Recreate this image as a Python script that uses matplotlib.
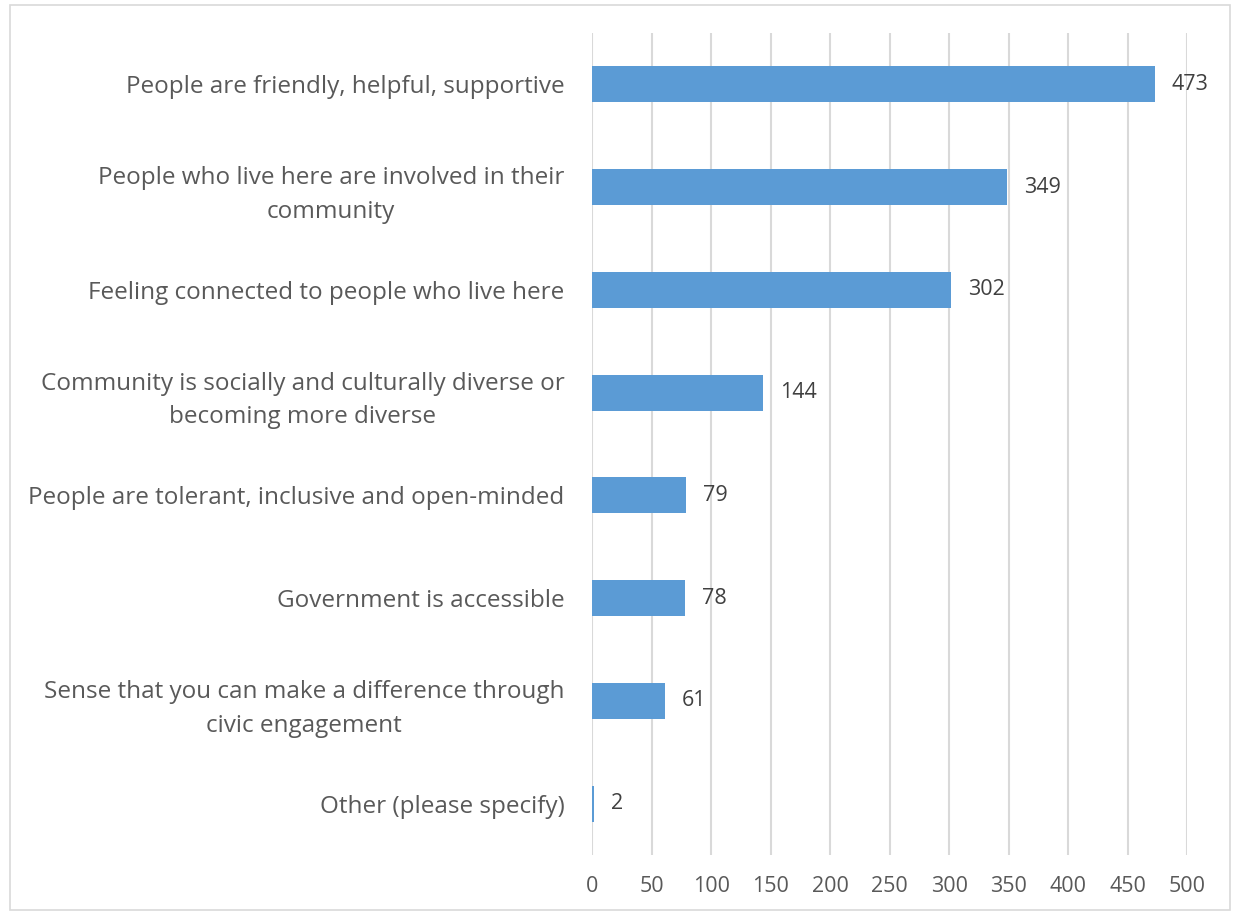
import matplotlib.pyplot as plt
from matplotlib.patches import Rectangle

# Survey responses: what makes the community feel connected
categories = [
    "People are friendly, helpful, supportive",
    "People who live here are involved in their\ncommunity",
    "Feeling connected to people who live here",
    "Community is socially and culturally diverse or\nbecoming more diverse",
    "People are tolerant, inclusive and open-minded",
    "Government is accessible",
    "Sense that you can make a difference through\ncivic engagement",
    "Other (please specify)",
]
counts = [473, 349, 302, 144, 79, 78, 61, 2]
xticks = list(range(0, 501, 50))

BAR = "#5B9BD5"
TEXT = "#595959"
GRID = "#D9D9D9"

plt.rcParams["font.family"] = ["Open Sans", "DejaVu Sans"]

fig = plt.figure(figsize=(12.35, 9.15), dpi=100)
ax = fig.add_axes([0.4794, 0.0656, 0.4818, 0.8984])

y = list(range(len(categories)))
ax.barh(y, counts, height=0.35, color=BAR, zorder=3)
for yi, v in zip(y, counts):
    ax.text(v + 14, yi, str(v), va="center", ha="left", fontsize=15.5,
            color="#404040")

ax.set_ylim(len(categories) - 0.5, -0.5)
ax.set_xlim(0, 500)
ax.set_xticks(xticks)
ax.set_yticks(y)
ax.set_yticklabels(categories, multialignment="center", fontsize=17.5,
                   color=TEXT, linespacing=1.55)
ax.tick_params(axis="x", labelsize=15.5, labelcolor=TEXT, length=0, pad=15)
ax.tick_params(axis="y", length=0, pad=20)
ax.xaxis.grid(True, color=GRID, linewidth=1.5, zorder=0)
for s in ax.spines.values():
    s.set_visible(False)

# light frame around the whole chart area
fig.patches.append(Rectangle((0.008, 0.005), 0.988, 0.99,
                             transform=fig.transFigure, fill=False,
                             edgecolor="#D9D9D9", linewidth=1.2))

fig.savefig("out.png", dpi=100)
